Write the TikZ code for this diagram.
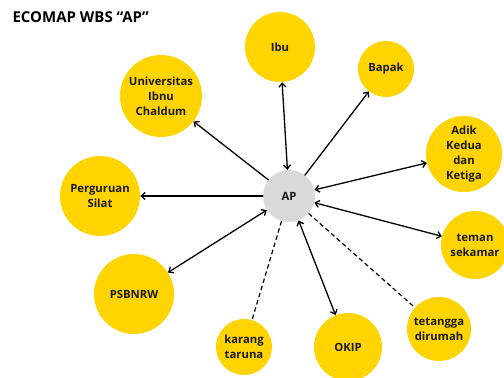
\documentclass[tikz,border=0pt]{standalone}
\usepackage{fontspec}
\setmainfont{Open Sans}
\usetikzlibrary{arrows.meta}
\definecolor{ecoyellow}{HTML}{FFD400}
\definecolor{apgray}{HTML}{D9D9D9}
\definecolor{ink}{HTML}{1A1A1A}

\begin{document}
\begin{tikzpicture}[x=1pt,y=-1pt,>={Straight Barb[length=4pt,width=7pt]},
  member/.style={circle,fill=ecoyellow,minimum size=#1,inner sep=0pt,align=center,
    text=ink,font=\bfseries\fontsize{11.3}{15}\selectfont},
  self/.style={circle,fill=apgray,minimum size=52pt,inner sep=0pt,
    text=ink,font=\bfseries\fontsize{11.3}{15}\selectfont},
  tie/.style={line width=1.3pt,line cap=round},
  weak/.style={line width=1.2pt,dash pattern=on 4.5pt off 3pt}]
\useasboundingbox (0,0) rectangle (504,378);
\clip (0,0) rectangle (504,378);

% title
\node[anchor=west,font=\bfseries\fontsize{15}{18}\selectfont] (title) at (9,17) {ECOMAP WBS “AP”};

% the person in the middle
\node[self] (ap) at (289,196) {AP};

% the circles round it
\node[member=70pt] (ibu)    at (280,47)  {Ibu};
\node[member=82pt] (univ)   at (161,96)  {Universitas\\Ibnu\\Chaldum};
\node[member=56pt] (bapak)  at (386,69)  {Bapak};
\node[member=76pt] (adik)   at (464,154) {Adik\\Kedua\\dan\\Ketiga};
\node[member=80pt] (silat)  at (100,196) {Perguruan\\Silat};
\node[member=80pt] (psbnrw) at (134,294) {PSBNRW};
\node[member=56pt] (karang) at (244,347) {karang\\taruna};
\node[member=68pt] (okip)   at (348,347) {OKIP};
\node[member=64pt] (tetangga) at (439,329) {tetangga\\dirumah};
\node[member=68pt] (teman)  at (475,245) {teman\\sekamar};

% connections going both ways
\foreach \n in {ibu,adik,teman,okip,psbnrw}
	\draw[tie,<->] (ap) -- (\n);

% connections going out from AP
\foreach \n in {bapak,silat,univ}
	\draw[tie,->] (ap) -- (\n);

% weak connections
\foreach \n in {karang,tetangga}
	\draw[weak] (ap) -- (\n);
\end{tikzpicture}
\end{document}
